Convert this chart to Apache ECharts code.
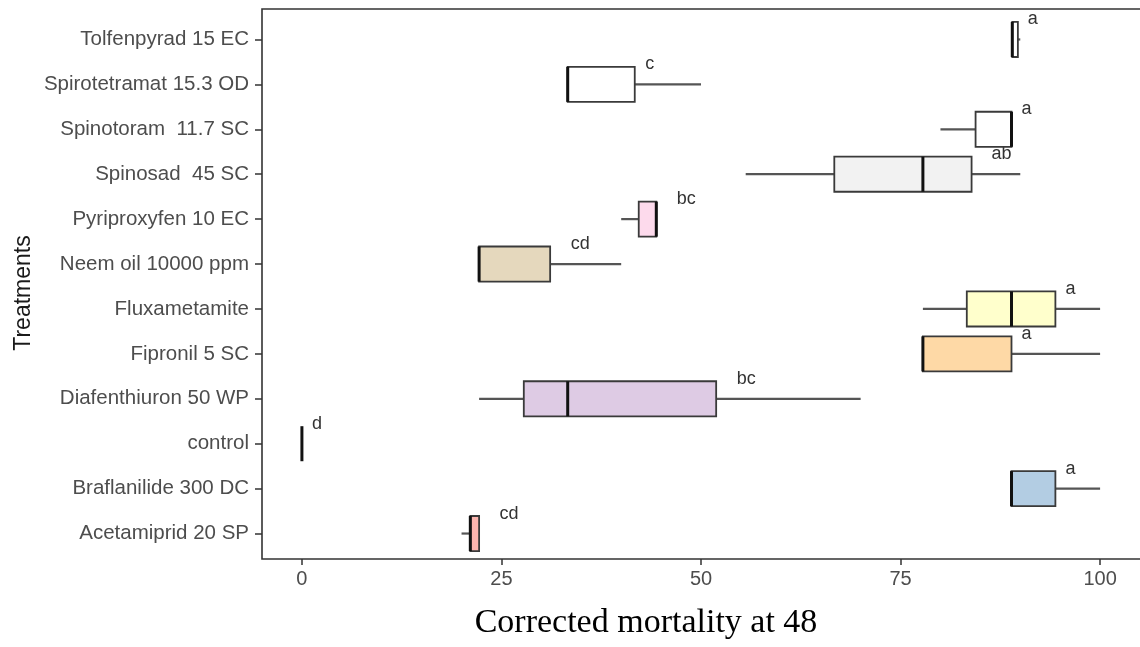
<!DOCTYPE html>
<html>
<head>
<meta charset="utf-8">
<script src="https://cdn.jsdelivr.net/npm/echarts@6/dist/echarts.min.js"></script>
<style>
html,body{margin:0;padding:0;background:#fff;}
#chart{width:1140px;height:647px;}
</style>
</head>
<body>
<div id="chart"></div>
<script>
// Categories (bottom to top)
const categories = ['Acetamiprid 20 SP','Braflanilide 300 DC','control','Diafenthiuron 50 WP','Fipronil 5 SC','Fluxametamite','Neem oil 10000 ppm','Pyriproxyfen 10 EC','Spinosad  45 SC','Spinotoram  11.7 SC','Spirotetramat 15.3 OD','Tolfenpyrad 15 EC'];
const minVals = [20.0, 88.9, 0, 22.2, 77.8, 77.8, 22.2, 40.0, 55.6, 80.0, 33.3, 89.0];
const q1Vals  = [21.1, 88.9, 0, 27.8, 77.8, 83.3, 22.2, 42.2, 66.7, 84.4, 33.3, 89.0];
const medVals = [21.1, 88.9, 0, 33.3, 77.8, 88.9, 22.2, 44.4, 77.8, 88.9, 33.3, 89.0];
const q3Vals  = [22.2, 94.4, 0, 51.9, 88.9, 94.4, 31.1, 44.4, 83.9, 88.9, 41.7, 89.7];
const maxVals = [22.2, 100, 0, 70.0, 100, 100, 40.0, 44.4, 90.0, 88.9, 50.0, 90.0];
const letters = ['cd','a','d','bc','a','a','cd','bc','ab','a','c','a'];
const fills = ['#FBB4AE','#B3CDE3','#CCEBC5','#DECBE4','#FED9A6','#FFFFCC','#E5D8BD','#FDDAEC','#F2F2F2','#FFFFFF','#FFFFFF','#FFFFFF'];
const xTicks = [0, 25, 50, 75, 100];

const rows = categories.map((c, i) => [i, minVals[i], q1Vals[i], medVals[i], q3Vals[i], maxVals[i]]);

function renderItem(params, api) {
  const i = api.value(0);
  const y = api.coord([0, i])[1];
  const bh = api.size([0, 1])[1] * 0.78;
  const xMin = api.coord([api.value(1), i])[0];
  const xQ1 = api.coord([api.value(2), i])[0];
  const xMed = api.coord([api.value(3), i])[0];
  const xQ3 = api.coord([api.value(4), i])[0];
  const xMax = api.coord([api.value(5), i])[0];
  const children = [];
  if (xQ1 - xMin > 0.5) children.push({type:'line', shape:{x1:xMin, y1:y, x2:xQ1, y2:y}, style:{stroke:'#555', lineWidth:2.2}});
  if (xMax - xQ3 > 0.5) children.push({type:'line', shape:{x1:xQ3, y1:y, x2:xMax, y2:y}, style:{stroke:'#555', lineWidth:2.2}});
  if (xQ3 - xQ1 > 0.5) children.push({type:'rect', shape:{x:xQ1, y:y - bh/2, width:xQ3 - xQ1, height:bh}, style:{fill:fills[i], stroke:'#3a3a3a', lineWidth:1.8}});
  children.push({type:'line', shape:{x1:xMed, y1:y - bh/2, x2:xMed, y2:y + bh/2}, style:{stroke:'#111', lineWidth:3}});
  const lbl = letters[i];
  children.push({type:'text', x: xQ3 + 15 * lbl.length, y: y - 20,
    style:{text: lbl, align:'center', verticalAlign:'middle', fontSize:18, fontFamily:'Liberation Sans, Arial, sans-serif', fill:'#333'}});
  return {type:'group', children};
}

const chart = echarts.init(document.getElementById('chart'));
chart.setOption({
  backgroundColor:'#fff',
  animation:false,
  grid:{left:262, top:17, width:883, height:539, containLabel:false},
  xAxis:{
    type:'value', min:-5, max:105, offset:3,
    axisLine:{show:false, onZero:false},
    axisTick:{show:true, length:6, lineStyle:{color:'#333', width:1.5}, customValues:xTicks},
    axisLabel:{fontSize:20, color:'#4d4d4d', margin:10, fontFamily:'Liberation Sans, Arial, sans-serif', customValues:xTicks},
    splitLine:{show:false}
  },
  yAxis:{
    type:'category', data:categories, position:'left',
    axisLine:{show:false, onZero:false},
    axisTick:{show:true, length:7, alignWithLabel:true, lineStyle:{color:'#333', width:1.5}},
    axisLabel:{fontSize:20.5, color:'#4d4d4d', margin:13, fontFamily:'Liberation Sans, Arial, sans-serif'},
    splitLine:{show:false}
  },
  graphic:[
    {type:'rect', z:100, silent:true, shape:{x:262, y:9, width:900, height:550}, style:{fill:'none', stroke:'#333', lineWidth:1.6}},
    {type:'text', x:24, y:293, rotation:Math.PI/2, style:{text:'Treatments', align:'center', verticalAlign:'middle', fontSize:23, fontFamily:'Liberation Sans, Arial, sans-serif', fill:'#1a1a1a'}},
    {type:'text', x:646, y:623, style:{text:'Corrected mortality at 48', align:'center', verticalAlign:'middle', fontSize:34, fontFamily:'Liberation Serif, Times New Roman, serif', fill:'#000'}}
  ],
  series:[{
    type:'custom',
    renderItem: renderItem,
    data: rows,
    encode:{x:[1,2,3,4,5], y:0},
    clip:false
  }]
});
</script>
</body>
</html>
